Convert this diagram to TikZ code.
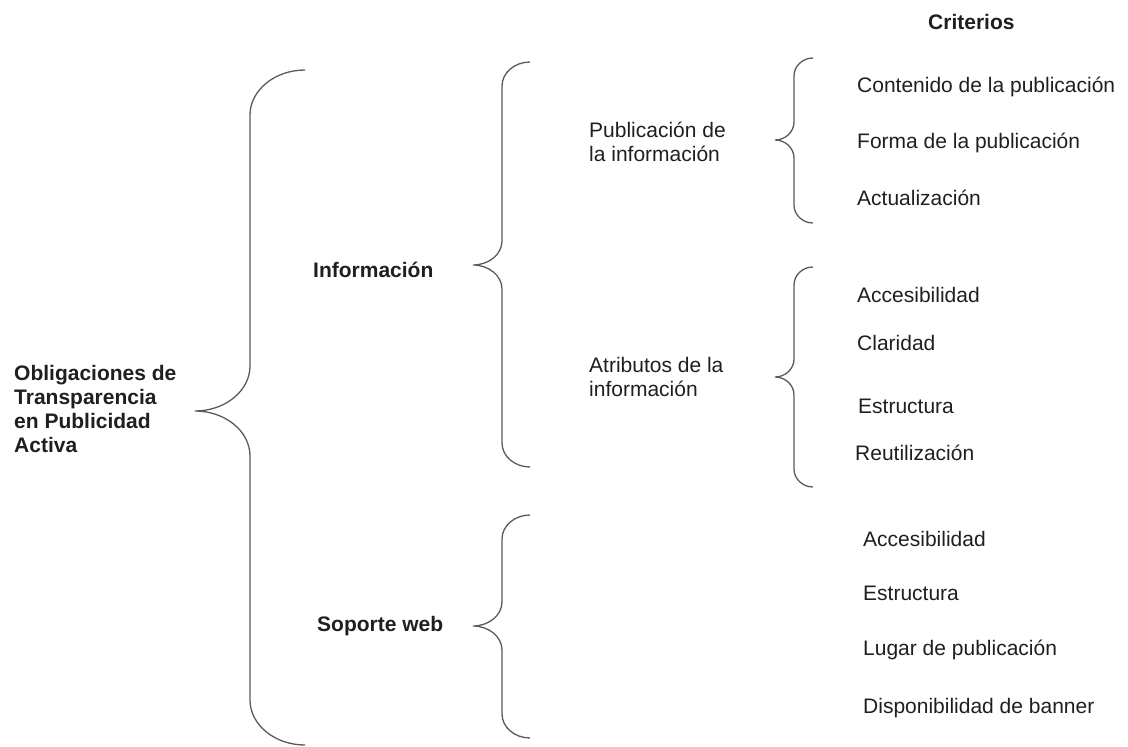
\documentclass[tikz,border=0pt]{standalone}
\usepackage{fontspec}
\setmainfont{Liberation Sans}
\definecolor{brace-gray}{HTML}{5A5A5A}
\definecolor{text-dark}{HTML}{1F1F1F}

% #1 tip x, #2 stem x, #3 end x, #4 top y, #5 tip y, #6 bottom y, #7 bend
\newcommand{\curlybrace}[7]{%
  \draw[brace line] (#3,#4) .. controls +({-0.55*(#3-#2)},0) and +(0,{-0.55*#7}) .. (#2,{#4+#7})
    -- (#2,{#5-#7}) .. controls +(0,{0.55*#7}) and +({0.55*(#2-#1)},0) .. (#1,#5)
    .. controls +({0.55*(#2-#1)},0) and +(0,{-0.55*#7}) .. (#2,{#5+#7})
    -- (#2,{#6-#7}) .. controls +(0,{0.55*#7}) and +({-0.55*(#3-#2)},0) .. (#3,#6);}

\begin{document}
\begin{tikzpicture}[x=1pt, y=-1pt,
      every node/.style={font=\fontsize{21}{24}\selectfont, text=text-dark,
                         inner sep=0pt, anchor=base west},
      head/.style={font=\fontsize{21}{24}\selectfont\bfseries},
      brace line/.style={draw=brace-gray, line width=1.3pt}]
    \useasboundingbox (0,0) rectangle (1128,747);

    % multi-line nodes: base anchor sits on the last line
    \node[head, align=left] (obligaciones) at (14,452)
         {Obligaciones de\\Transparencia\\en Publicidad\\Activa};
    \node[head] (informacion) at (313,277) {Información};
    \node[head] (soporte)     at (317,631) {Soporte web};
    \node[align=left] (publicacion) at (589,161) {Publicación de\\la información};
    \node[align=left] (atributos)   at (589,396) {Atributos de la\\información};
    \node[head] (criterios) at (928,29) {Criterios};

    \node (contenido)     at (857,92)  {Contenido de la publicación};
    \node (forma)         at (857,148) {Forma de la publicación};
    \node (actualizacion) at (857,205) {Actualización};
    \node (accesInfo)     at (857,302) {Accesibilidad};
    \node (claridad)      at (857,350) {Claridad};
    \node (estrucInfo)    at (858,413) {Estructura};
    \node (reutilizacion) at (855,460) {Reutilización};
    \node (accesWeb)      at (863,546) {Accesibilidad};
    \node (estrucWeb)     at (863,600) {Estructura};
    \node (lugar)         at (863,655) {Lugar de publicación};
    \node (banner)        at (863,713) {Disponibilidad de banner};

    \curlybrace{195}{250}{305}{70}{411}{745}{45}
    \curlybrace{473}{502}{530}{62}{265}{467}{24}
    \curlybrace{473}{502}{530}{515}{626}{738}{24}
    \curlybrace{775}{794}{813}{58}{140}{223}{18}
    \curlybrace{775}{794}{813}{267}{377}{487}{18}
  \end{tikzpicture}
\end{document}
